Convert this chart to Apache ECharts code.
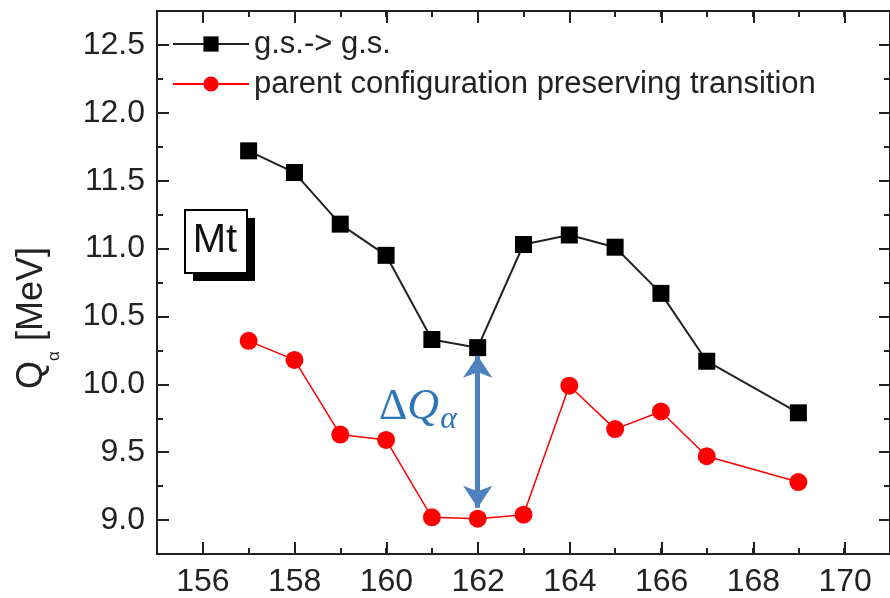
<!DOCTYPE html>
<html lang="en">
<head>
    <meta charset="UTF-8">
    <title>Q alpha Mt</title>
</head>
<style>
    html, body { margin: 0; padding: 0; background: #fff; }
    #main { width: 890px; height: 598px; }
</style>
<body>
<div id="main"></div>
<script type="text/javascript" src="https://cdn.jsdelivr.net/npm/echarts@6/dist/echarts.min.js"></script>
<script>
    // neutron number N
    var neutrons = [157, 158, 159, 160, 161, 162, 163, 164, 165, 166, 167, 169];
    // g.s. -> g.s.
    var gsValues = [11.72, 11.56, 11.18, 10.95, 10.33, 10.27, 11.03, 11.10, 11.01, 10.67, 10.17, 9.79];
    // parent configuration preserving transition
    var pcpValues = [10.32, 10.18, 9.63, 9.59, 9.02, 9.01, 9.04, 9.99, 9.67, 9.80, 9.47, 9.28];
    var seriesNames = ['g.s.-> g.s.', 'parent configuration preserving transition'];
    // delta Q arrow at N = 162
    var arrowN = 162, arrowTop = 10.21, arrowBottom = 9.09;

    function pairs(xs, ys) {
        var out = [];
        for (var i = 0; i < xs.length; i++) out.push([xs[i], ys[i]]);
        return out;
    }

    var myChart = echarts.init(document.getElementById('main'));
    var FONT = '"Liberation Sans", Arial, sans-serif';
    var AX = '#222';

    // main grid: x 155..171, y 8.75..12.75
    // grid 1 sits on the major ticks (156..170, 9.0..12.5) and its axes are shifted onto the frame
    var unitX = 734 / 16, unitY = 543 / 4;

    function minorAxis(pos, grid, min, max, interval) {
        return {
            type: 'value', gridIndex: grid, position: pos,
            min: min, max: max, interval: interval,
            axisLine: {show: true, onZero: false, lineStyle: {color: AX, width: 2}},
            axisTick: {show: true, inside: true, length: 6, lineStyle: {color: AX, width: 2}},
            axisLabel: {show: false},
            splitLine: {show: false}
        };
    }
    function majorAxis(pos, grid, min, max, interval, offset, labels) {
        return {
            type: 'value', gridIndex: grid, position: pos, offset: offset,
            min: min, max: max, interval: interval,
            axisLine: {show: false},
            axisTick: {show: true, inside: true, length: 12, lineStyle: {color: AX, width: 2}},
            axisLabel: {
                show: labels, fontSize: 32, color: AX, fontFamily: FONT, margin: 12,
                formatter: function (v) { return pos === 'left' ? v.toFixed(1) : String(v); }
            },
            splitLine: {show: false}
        };
    }

    var option = {
        animation: false,
        backgroundColor: '#fff',
        textStyle: {fontFamily: FONT},
        grid: [
            {left: 157, width: 734, top: 11, height: 543},
            {left: 157 + unitX, width: 734 - 2 * unitX, top: 11 + 0.25 * unitY, height: 543 - 0.5 * unitY}
        ],
        xAxis: [
            minorAxis('bottom', 0, 155, 171, 1),
            minorAxis('top', 0, 155, 171, 1),
            majorAxis('bottom', 1, 156, 170, 2, 0.25 * unitY, true),
            majorAxis('top', 1, 156, 170, 2, 0.25 * unitY, false)
        ],
        yAxis: [
            minorAxis('left', 0, 8.75, 12.75, 0.25),
            minorAxis('right', 0, 8.75, 12.75, 0.25),
            majorAxis('left', 1, 9.0, 12.5, 0.5, unitX, true),
            majorAxis('right', 1, 9.0, 12.5, 0.5, unitX, false)
        ],
        legend: {
            orient: 'vertical',
            left: 172, top: 28,
            padding: 0,
            itemWidth: 76, itemHeight: 19, itemGap: 8,
            textStyle: {fontSize: 31, color: AX, fontFamily: FONT, lineHeight: 32},
            data: seriesNames
        },
        series: [
            {
                name: seriesNames[1],
                type: 'line',
                xAxisIndex: 0, yAxisIndex: 0,
                data: pairs(neutrons, pcpValues),
                symbol: 'circle', symbolSize: 18,
                itemStyle: {color: '#ff0000'},
                lineStyle: {color: '#ff0000', width: 1.5},
                markLine: {
                    silent: true,
                    symbol: ['arrow', 'arrow'],
                    symbolSize: [22, 22],
                    label: {show: false},
                    lineStyle: {color: '#4f81bd', width: 5, type: 'solid'},
                    data: [[{coord: [arrowN, arrowTop]}, {coord: [arrowN, arrowBottom]}]]
                },
                z: 3
            },
            {
                name: seriesNames[0],
                type: 'line',
                xAxisIndex: 0, yAxisIndex: 0,
                data: pairs(neutrons, gsValues),
                symbol: 'rect', symbolSize: 17,
                itemStyle: {color: '#000'},
                lineStyle: {color: '#222', width: 2},
                z: 4
            }
        ],
        graphic: [
            // Mt label box with shadow
            {type: 'rect', left: 193, top: 218, shape: {width: 62, height: 63}, style: {fill: '#000'}, z: 10},
            {type: 'rect', left: 184, top: 209, shape: {width: 62, height: 63}, style: {fill: '#fff', stroke: '#000', lineWidth: 2}, z: 11},
            {type: 'text', x: 215, y: 241, z: 12,
                style: {text: 'Mt', fontSize: 40, fontFamily: FONT, fill: '#111', align: 'center', verticalAlign: 'middle'}},
            // delta Q alpha
            {type: 'text', x: 418, y: 407, z: 12,
                style: {
                    text: '{d|Δ}{q|Q}{a|α}',
                    align: 'center', verticalAlign: 'middle',
                    rich: {
                        d: {fontSize: 44, fontFamily: '"Liberation Serif", serif', fill: '#2e75b6'},
                        q: {fontSize: 44, fontFamily: '"Liberation Serif", serif', fontStyle: 'italic', fill: '#2e75b6'},
                        a: {fontSize: 32, fontFamily: '"Liberation Serif", serif', fontStyle: 'italic', fill: '#2e75b6', padding: [26, 0, 0, 1]}
                    }
                }},
            // y axis title
            {type: 'text', x: 32, y: 318, rotation: Math.PI / 2, z: 12,
                style: {
                    text: '{q|Q}{a|α}{q| [MeV]}',
                    align: 'center', verticalAlign: 'middle',
                    rich: {
                        q: {fontSize: 36, fontFamily: FONT, fill: AX},
                        a: {fontSize: 17, fontFamily: FONT, fill: AX, padding: [44, 0, 0, 0]}
                    }
                }}
        ]
    };
    myChart.setOption(option);
</script>
</body>
</html>
